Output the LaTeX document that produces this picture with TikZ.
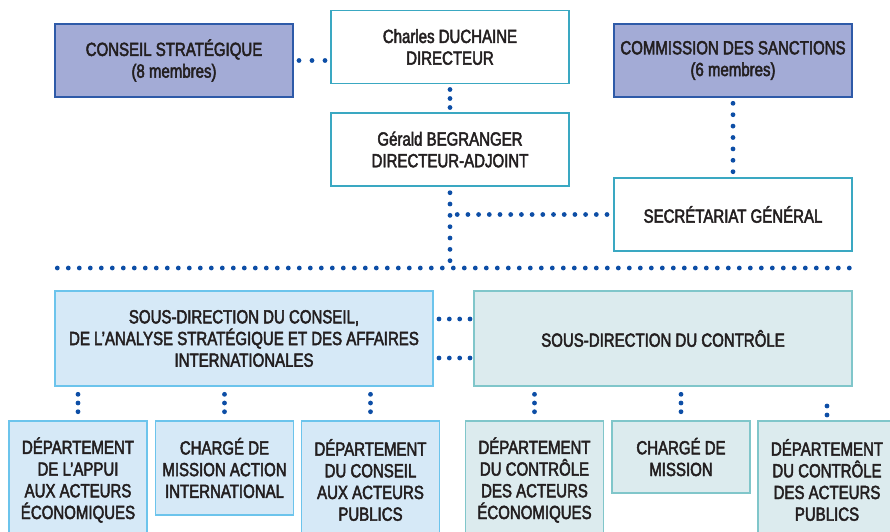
\documentclass[tikz,border=0pt]{standalone}
\usepackage{fontspec}
\setmainfont[FakeStretch=0.79, FakeBold=2.5]{Liberation Sans}
\usepackage{tikz}
\usetikzlibrary{positioning}

\definecolor{inktext}{HTML}{231F20}
\definecolor{dotblue}{HTML}{0D4EA6}
\definecolor{lavfill}{HTML}{A3ABD6}
\definecolor{lavline}{HTML}{2E5AA8}
\definecolor{tealline}{HTML}{3AA8C2}
\definecolor{skyfill}{HTML}{D6E9F7}
\definecolor{skyline}{HTML}{6CC4EC}
\definecolor{mintfill}{HTML}{DCEBEE}
\definecolor{mintline}{HTML}{80C6CA}

\begin{document}
\begin{tikzpicture}[x=1pt, y=-1pt,
    every node/.style={
        text=inktext,
        font=\fontsize{19}{21.7}\selectfont,
        align=center,
        inner sep=0pt,
        outer sep=0pt
    },
    topbox/.style={
        rectangle,
        minimum width=238pt,    minimum height=73pt,
        line width=1.4pt
    },
    boardbox/.style={topbox, draw=lavline, fill=lavfill},
    officebox/.style={topbox, draw=tealline, fill=white},
    subbox/.style={
        rectangle,
        minimum width=378pt,    minimum height=95pt,
        line width=1.4pt
    },
    deptbox/.style={
        rectangle,
        minimum width=138pt,
        line width=1.4pt
    },
    skybox/.style={draw=skyline, fill=skyfill},
    mintbox/.style={draw=mintline, fill=mintfill},
    dotline/.style={dotblue, line width=4.8pt, line cap=round, dash pattern=on 0pt off 11pt}
]

\clip (0,0) rectangle (890,531);

\node[boardbox]  (conseilbox)     at (174, 60.5)  {CONSEIL STRATÉGIQUE\\(8 membres)};
\node[officebox] (directeurbox)   at (450, 47)    {Charles DUCHAINE\\DIRECTEUR};
\node[officebox] (adjointbox)     at (450, 149.5) {Gérald BEGRANGER\\DIRECTEUR-ADJOINT};
\node[boardbox]  (commissionbox)  at (733, 60.5)  {COMMISSION DES SANCTIONS\\(6 membres)};
\node[officebox] (secretariatbox) at (733, 214.5) {SECRÉTARIAT GÉNÉRAL};

\coordinate (busleft)  at (55, 268);
\coordinate (busright) at (851, 268);

\node[subbox, skybox]  (sdconseilbox)  at (244, 338.5) {SOUS-DIRECTION DU CONSEIL,\\DE L’ANALYSE STRATÉGIQUE ET DES AFFAIRES\\INTERNATIONALES};
\node[subbox, mintbox] (sdcontrolebox) at (663, 338.5) {SOUS-DIRECTION DU CONTRÔLE};

\node[deptbox, skybox, minimum height=118pt] (conseil1) at (78, 480)    {DÉPARTEMENT\\DE L’APPUI\\AUX ACTEURS\\ÉCONOMIQUES};
\node[deptbox, skybox, minimum height=94pt]  (conseil2) at (224.5, 468) {CHARGÉ DE\\MISSION ACTION\\INTERNATIONAL};
\node[deptbox, skybox, minimum height=118pt] (conseil3) at (370.5, 480) {DÉPARTEMENT\\DU CONSEIL\\AUX ACTEURS\\PUBLICS};

\node[deptbox, mintbox, minimum height=118pt] (controle1) at (534.5, 480) {DÉPARTEMENT\\DU CONTRÔLE\\DES ACTEURS\\ÉCONOMIQUES};
\node[deptbox, mintbox, minimum height=72pt]  (controle2) at (681, 457)   {CHARGÉ DE\\MISSION};
\node[deptbox, mintbox, minimum height=118pt] (controle3) at (827, 480)   {DÉPARTEMENT\\DU CONTRÔLE\\DES ACTEURS\\PUBLICS};

% liaisons de la direction
\draw[dotline, dash pattern=on 0pt off 13pt, shorten <=6pt, shorten >=4pt]
    (conseilbox.east) -- (conseilbox.east -| directeurbox.west);
\draw[dotline, dash pattern=on 0pt off 9pt, shorten <=6pt, shorten >=4pt]
    (directeurbox.south) -- (adjointbox.north);
\draw[dotline, dash pattern=on 0pt off 11.33pt, shorten <=6.7pt, shorten >=5pt]
    (adjointbox.south) -- (adjointbox.south |- busleft);
\draw[dotline, dash pattern=on 0pt off 11.4pt, shorten <=6.3pt, shorten >=4.5pt]
    (commissionbox.south) -- (secretariatbox.north);
\draw[dotline, dash pattern=on 0pt off 10.7pt, shorten <=7pt, shorten >=6pt]
    (secretariatbox.west) -- (secretariatbox.west -| adjointbox.south);
\draw[dotline, shorten <=2.3pt]
    (busleft) -- (busright);

% liaisons entre sous-directions
\draw[dotline, dash pattern=on 0pt off 10.33pt, shorten <=6pt, shorten >=2pt]
    ([yshift=19.5pt]sdconseilbox.east) -- ([yshift=19.5pt]sdconseilbox.east -| sdcontrolebox.west);
\draw[dotline, dash pattern=on 0pt off 10.33pt, shorten <=6pt, shorten >=2pt]
    ([yshift=-19.5pt]sdconseilbox.east) -- ([yshift=-19.5pt]sdconseilbox.east -| sdcontrolebox.west);

% liaisons vers les departements
\foreach \dept in {conseil1, conseil2, conseil3}
    \draw[dotline, dash pattern=on 0pt off 8.7pt, shorten <=8.3pt, shorten >=7pt]
        (\dept.north |- sdconseilbox.south) -- (\dept.north);
\foreach \dept in {controle1, controle2}
    \draw[dotline, dash pattern=on 0pt off 8.7pt, shorten <=8.3pt, shorten >=7pt]
        (\dept.north |- sdcontrolebox.south) -- (\dept.north);
\draw[dotline, dash pattern=on 0pt off 9pt, shorten <=20pt, shorten >=4pt]
    (controle3.north |- sdcontrolebox.south) -- (controle3.north);

\end{tikzpicture}
\end{document}
